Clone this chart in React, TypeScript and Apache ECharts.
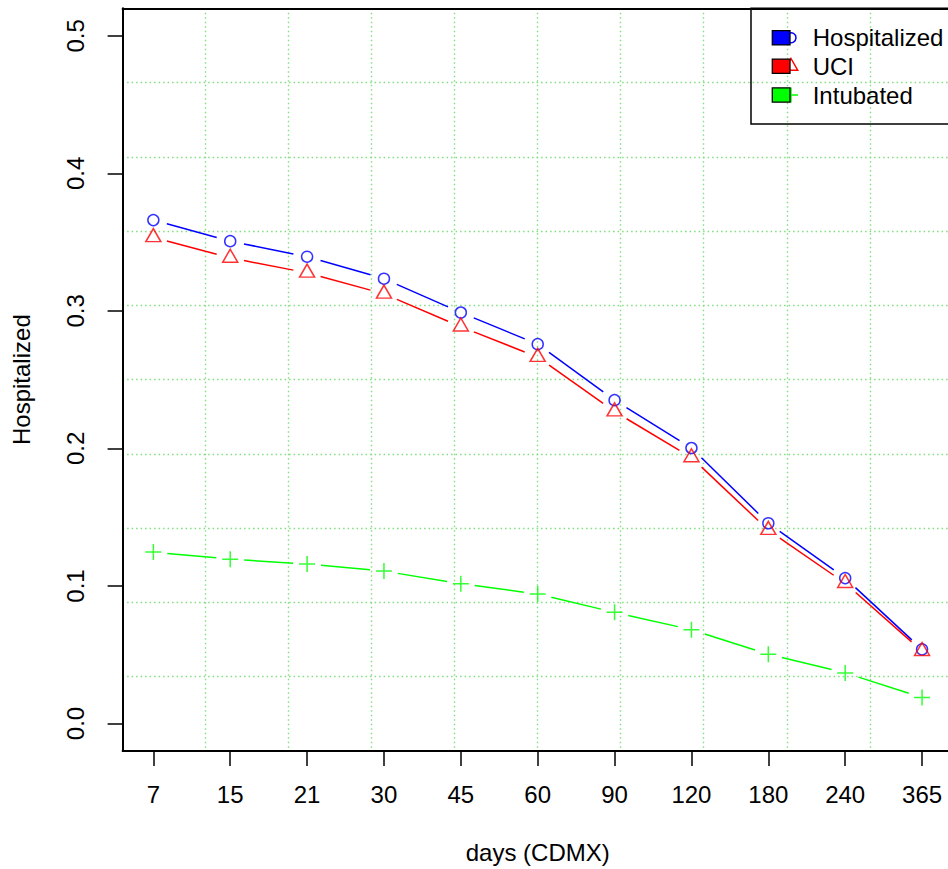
import React, { useEffect, useRef } from "react";
import * as echarts from "echarts";

const dayLabels = ["7", "15", "21", "30", "45", "60", "90", "120", "180", "240", "365"];
const hospitalized = [0.366, 0.3507, 0.3394, 0.3234, 0.2988, 0.2758, 0.2351, 0.2003, 0.1456, 0.1057, 0.0539];
const uci = [0.3535, 0.3385, 0.3277, 0.3124, 0.2885, 0.2664, 0.2268, 0.1934, 0.1406, 0.102, 0.0526];
const intubated = [0.1246, 0.1195, 0.1159, 0.1108, 0.1016, 0.0941, 0.0808, 0.0682, 0.0503, 0.0368, 0.0189];
const yTicks = [0, 0.1, 0.2, 0.3, 0.4, 0.5];
const legendNames = ["Hospitalized", "UCI", "Intubated"];
const colors = ["#0000FF", "#FF0000", "#00FF00"];

const FONT = "'Liberation Sans', Arial, Helvetica, sans-serif";
const FS = 24;
const GAP = 14;

function segments(vals: number[]) {
  const out: number[][] = [];
  for (let i = 0; i < vals.length - 1; i++) out.push([i + 1, vals[i], i + 2, vals[i + 1]]);
  return out;
}

function lineSeries(vals: number[], color: string) {
  return {
    type: "custom",
    xAxisIndex: 0,
    yAxisIndex: 0,
    data: segments(vals),
    encode: { x: [0, 2], y: [1, 3] },
    renderItem: (params: any, api: any) => {
      const p1 = api.coord([api.value(0), api.value(1)]);
      const p2 = api.coord([api.value(2), api.value(3)]);
      const dx = p2[0] - p1[0];
      const dy = p2[1] - p1[1];
      const len = Math.sqrt(dx * dx + dy * dy);
      if (len <= 2 * GAP) return null;
      const ux = dx / len;
      const uy = dy / len;
      return {
        type: "line",
        shape: {
          x1: p1[0] + ux * GAP,
          y1: p1[1] + uy * GAP,
          x2: p2[0] - ux * GAP,
          y2: p2[1] - uy * GAP,
        },
        style: { stroke: color, lineWidth: 1.5 },
      };
    },
  };
}

function pts(vals: number[]) {
  return vals.map((v, i) => [i + 1, v]);
}

export default function App() {
  const ref = useRef<HTMLDivElement>(null);
  useEffect(() => {
    if (!ref.current) return;
    const chart = echarts.init(ref.current, null, { renderer: "svg" });
    const xs = dayLabels.map((_, i) => i + 1);
    const gridLine = { show: true, showMinLine: false, showMaxLine: false, lineStyle: { color: "#7FDF7F", width: 1.4, type: [1.5, 3] } };
    const rowY = [37.8, 66.3, 95];
    const legendX = 772.3;
    const legendGraphics: any[] = [
      { type: "rect", shape: { x: 751, y: 8.3, width: 260, height: 115.7 }, style: { fill: "none", stroke: "#000", lineWidth: 1.5 }, z: 10 },
      { type: "circle", shape: { cx: 791, cy: rowY[0], r: 5 }, style: { fill: "none", stroke: colors[0], lineWidth: 1.5 }, z: 10 },
      { type: "polygon", shape: { points: [[791, rowY[1] - 7.8], [797.7, rowY[1] + 3.9], [784.3, rowY[1] + 3.9]] }, style: { fill: "none", stroke: colors[1], lineWidth: 1.5 }, z: 10 },
      { type: "line", shape: { x1: 783, y1: rowY[2], x2: 798, y2: rowY[2] }, style: { stroke: colors[2], lineWidth: 1.5 }, z: 10 },
      { type: "line", shape: { x1: 791, y1: rowY[2] - 7.5, x2: 791, y2: rowY[2] + 7.5 }, style: { stroke: colors[2], lineWidth: 1.5 }, z: 10 },
    ];
    legendNames.forEach((name, i) => {
      legendGraphics.push({
        type: "rect",
        shape: { x: legendX, y: rowY[i] - 7.15, width: 17.7, height: 14.3 },
        style: { fill: colors[i], stroke: "#000", lineWidth: 1.3 },
        z: 11,
      });
      legendGraphics.push({
        type: "text",
        x: 812.7,
        y: rowY[i],
        style: { text: name, fill: "#000", font: `${FS}px ${FONT}`, textVerticalAlign: "middle", textAlign: "left" },
        z: 11,
      });
    });

    chart.setOption({
      animation: false,
      backgroundColor: "#fff",
      textStyle: { fontFamily: FONT },
      grid: { left: 122.6, top: 8.3, width: 830.2, height: 743.4, containLabel: false },
      xAxis: [
        {
          type: "value",
          min: 0.6,
          max: 11.4,
          position: "bottom",
          axisLine: { show: true, onZero: false, lineStyle: { color: "#000", width: 2 } },
          axisTick: { show: true, customValues: xs, length: 15, lineStyle: { color: "#000", width: 1.5 } },
          axisLabel: {
            show: true,
            customValues: xs,
            formatter: (v: number) => dayLabels[Math.round(v) - 1] ?? "",
            fontSize: FS,
            color: "#000",
            margin: 31,
            fontFamily: FONT,
          },
          splitLine: { show: false },
          name: "days (CDMX)",
          nameLocation: "middle",
          nameGap: 89,
          nameTextStyle: { fontSize: FS, color: "#000", fontFamily: FONT },
        },
        {
          type: "value",
          min: 0,
          max: 10,
          interval: 1,
          position: "top",
          axisLine: { show: true, onZero: false, lineStyle: { color: "#000", width: 2 } },
          axisTick: { show: false },
          axisLabel: { show: false },
          splitLine: gridLine,
        },
      ],
      yAxis: [
        {
          type: "value",
          min: -0.02,
          max: 0.52,
          position: "left",
          axisLine: { show: true, onZero: false, lineStyle: { color: "#000", width: 2 } },
          axisTick: { show: true, customValues: yTicks, length: 15, lineStyle: { color: "#000", width: 1.5 } },
          axisLabel: {
            show: true,
            customValues: yTicks,
            rotate: 90,
            formatter: (v: number) => v.toFixed(1),
            fontSize: FS,
            color: "#000",
            margin: 35,
            fontFamily: FONT,
          },
          splitLine: { show: false },
          name: "Hospitalized",
          nameLocation: "middle",
          nameRotate: 90,
          nameGap: 89,
          nameTextStyle: { fontSize: FS, color: "#000", fontFamily: FONT },
        },
        {
          type: "value",
          min: 0,
          max: 10,
          interval: 1,
          position: "right",
          axisLine: { show: true, onZero: false, lineStyle: { color: "#000", width: 2 } },
          axisTick: { show: false },
          axisLabel: { show: false },
          splitLine: gridLine,
        },
      ],
      graphic: legendGraphics,
      series: [
        lineSeries(hospitalized, colors[0]),
        lineSeries(uci, colors[1]),
        lineSeries(intubated, colors[2]),
        {
          type: "scatter",
          name: "Hospitalized",
          data: pts(hospitalized),
          symbol: "circle",
          symbolSize: 11,
          itemStyle: { color: "rgba(0,0,0,0)", borderColor: colors[0], borderWidth: 1.5 },
        },
        {
          type: "scatter",
          name: "UCI",
          data: pts(uci),
          symbol: "triangle",
          symbolSize: [15, 13],
          symbolOffset: [0, -2.2],
          itemStyle: { color: "rgba(0,0,0,0)", borderColor: colors[1], borderWidth: 1.5 },
        },
        {
          type: "scatter",
          name: "Intubated",
          data: pts(intubated),
          symbol: "path://M8,0L8,16M0,8L16,8",
          symbolSize: 16,
          itemStyle: { color: "rgba(0,0,0,0)", borderColor: colors[2], borderWidth: 1.5 },
        },
      ],
    });
    return () => chart.dispose();
  }, []);
  return (
    <div style={{ position: "absolute", left: 0, top: 0, width: 948, height: 869, overflow: "hidden" }}>
      <div ref={ref} style={{ position: "absolute", left: 0, top: 0, width: 970, height: 869 }} />
    </div>
  );
}
